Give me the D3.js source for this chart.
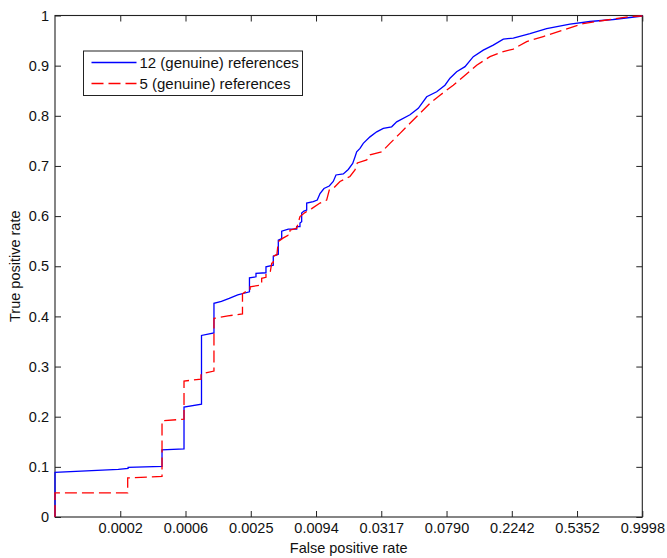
<!DOCTYPE html>
<html>
<head>
<meta charset="utf-8">
<script src="https://cdn.jsdelivr.net/npm/d3@7"></script>
<style>
  body { margin: 0; background: #fff; }
  svg text { font-family: "Liberation Sans", Arial, sans-serif; fill: #111; }
</style>
</head>
<body>
<svg></svg>
<script>

// ----- Data ----- //
// x values are positions on the warped false positive rate axis (tick i sits at i)
var xTickLabels = ['0.0002', '0.0006', '0.0025', '0.0094', '0.0317', '0.0790', '0.2242', '0.5352', '0.9998'];
var yTicks = [0, 0.1, 0.2, 0.3, 0.4, 0.5, 0.6, 0.7, 0.8, 0.9, 1];

var seriesNames = ['12 (genuine) references', '5 (genuine) references'];

var blue = [
  [0, 0], [0, 0.089], [0.97, 0.095], [1.12, 0.097], [1.12, 0.099], [1.64, 0.101], [1.64, 0.134],
  [1.977, 0.136], [1.977, 0.219], [2.245, 0.225], [2.245, 0.362], [2.436, 0.367], [2.436, 0.426],
  [2.55, 0.430], [2.67, 0.436], [2.80, 0.443], [2.98, 0.449], [2.98, 0.477], [3.08, 0.479], [3.08, 0.486],
  [3.233, 0.487], [3.233, 0.499], [3.345, 0.502], [3.345, 0.520], [3.422, 0.524], [3.422, 0.552],
  [3.474, 0.555], [3.474, 0.570], [3.575, 0.574], [3.704, 0.574], [3.704, 0.579], [3.754, 0.579],
  [3.754, 0.586], [3.78, 0.589], [3.78, 0.606], [3.815, 0.610], [3.857, 0.612], [3.857, 0.626],
  [3.958, 0.629], [4.019, 0.632], [4.061, 0.645], [4.122, 0.655], [4.203, 0.660], [4.264, 0.669],
  [4.306, 0.682], [4.418, 0.684], [4.494, 0.693], [4.562, 0.705], [4.597, 0.718], [4.623, 0.728],
  [4.674, 0.735], [4.724, 0.745], [4.827, 0.758], [4.930, 0.768], [5.031, 0.775], [5.159, 0.778],
  [5.236, 0.788], [5.440, 0.802], [5.567, 0.815], [5.696, 0.838], [5.849, 0.848], [5.976, 0.861],
  [6.053, 0.875], [6.155, 0.888], [6.283, 0.898], [6.410, 0.918], [6.563, 0.931], [6.716, 0.941],
  [6.870, 0.953], [7.023, 0.955], [7.279, 0.964], [7.534, 0.974], [7.891, 0.983], [8.198, 0.988],
  [8.555, 0.992], [8.811, 0.996], [9, 0.999]
];

var red = [
  [0, 0], [0, 0.048], [1.114, 0.048], [1.114, 0.078], [1.64, 0.081], [1.64, 0.192], [1.977, 0.195],
  [1.977, 0.271], [2.237, 0.275], [2.237, 0.285], [2.436, 0.291], [2.436, 0.396], [2.65, 0.401],
  [2.873, 0.405], [2.873, 0.445], [2.93, 0.450], [2.99, 0.452], [2.99, 0.459], [3.167, 0.463],
  [3.167, 0.476], [3.233, 0.478], [3.233, 0.486], [3.30, 0.490], [3.321, 0.506], [3.345, 0.507],
  [3.345, 0.520], [3.40, 0.523], [3.422, 0.549], [3.494, 0.556], [3.575, 0.562], [3.601, 0.562],
  [3.601, 0.572], [3.704, 0.576], [3.754, 0.599], [3.831, 0.607], [3.934, 0.615], [4.061, 0.626],
  [4.163, 0.632], [4.203, 0.652], [4.264, 0.655], [4.367, 0.669], [4.520, 0.679], [4.597, 0.692],
  [4.633, 0.706], [4.777, 0.712], [4.827, 0.722], [5.006, 0.728], [5.133, 0.745], [5.287, 0.765],
  [5.440, 0.785], [5.593, 0.805], [5.746, 0.825], [5.900, 0.841], [6.103, 0.861], [6.257, 0.878],
  [6.462, 0.901], [6.666, 0.918], [6.870, 0.928], [7.023, 0.933], [7.228, 0.948], [7.482, 0.958],
  [7.789, 0.971], [8.095, 0.984], [8.454, 0.991], [8.811, 0.998], [9, 0.999]
];

var svgWidth = 667;
var svgHeight = 558;
var margin = {top: 15.5, right: 24.7, bottom: 41, left: 55};
var width = svgWidth - margin.left - margin.right;
var height = svgHeight - margin.top - margin.bottom;
var scale = {};

// ----- SVG settings ----- //
var svg = d3.select("svg")
  .attr('width', svgWidth)
  .attr('height', svgHeight);

var g = svg.append('g')
  .attr('transform', translate(margin.left, margin.top));

setScale();
initializeAxis();
initializePlot();
initializeLegend();

// ==================== Helper functions ==================== //

function setScale() {
  scale.x = d3.scaleLinear()
    .domain([0, xTickLabels.length])
    .range([0, width]);

  scale.y = d3.scaleLinear()
    .domain([0, 1])
    .range([height, 0]);
}

function initializeAxis() {
  var xTicks = d3.range(1, xTickLabels.length + 1);
  var fontSize = '14.5px';

  var xb = g.append('g')
    .attr('transform', translate(0, height))
    .call(d3.axisBottom(scale.x).tickValues(xTicks).tickSize(-6).tickPadding(6)
      .tickFormat(function(d) { return xTickLabels[d - 1]; }));

  var xt = g.append('g')
    .call(d3.axisTop(scale.x).tickValues(xTicks).tickSize(-6).tickFormat(''));

  var yl = g.append('g')
    .call(d3.axisLeft(scale.y).tickValues(yTicks).tickSize(-6).tickPadding(6)
      .tickFormat(function(d) { return d3.format('~g')(d); }));

  var yr = g.append('g')
    .attr('transform', translate(width, 0))
    .call(d3.axisRight(scale.y).tickValues(yTicks).tickSize(-6).tickFormat(''));

  [xb, xt, yl, yr].forEach(function(a) {
    a.select('.domain').remove();
    a.selectAll('line').attr('stroke', '#222').attr('stroke-width', 1);
    a.selectAll('text').style('font-size', fontSize).attr('fill', '#111');
  });

  g.append('rect')
    .attr('width', width)
    .attr('height', height)
    .attr('fill', 'none')
    .attr('stroke', '#222')
    .attr('stroke-width', 1.1);

  g.append('text')
    .attr('x', width / 2)
    .attr('y', height + 36)
    .attr('text-anchor', 'middle')
    .style('font-size', fontSize)
    .text('False positive rate');

  g.append('text')
    .attr('transform', translate(-35.5, height / 2) + ' rotate(-90)')
    .attr('text-anchor', 'middle')
    .style('font-size', fontSize)
    .text('True positive rate');
}

function initializePlot() {
  var line = d3.line()
    .x(function(d) { return scale.x(d[0]); })
    .y(function(d) { return scale.y(d[1]); });

  g.append('path')
    .attr('d', line(blue))
    .attr('fill', 'none')
    .attr('stroke', '#0000ff')
    .attr('stroke-width', 1.3);

  g.append('path')
    .attr('d', line(red))
    .attr('fill', 'none')
    .attr('stroke', '#ff0000')
    .attr('stroke-width', 1.3)
    .attr('stroke-dasharray', '12,5');
}

function initializeLegend() {
  var lg = svg.append('g').attr('transform', translate(83.5, 51));

  lg.append('rect')
    .attr('width', 219)
    .attr('height', 44.5)
    .attr('fill', '#fff')
    .attr('stroke', '#222')
    .attr('stroke-width', 1);

  var rows = [
    {name: seriesNames[0], color: '#0000ff', dash: null},
    {name: seriesNames[1], color: '#ff0000', dash: '12,5'}
  ];

  rows.forEach(function(r, i) {
    var cy = 11.5 + i * 21;
    lg.append('line')
      .attr('x1', 8).attr('x2', 53)
      .attr('y1', cy).attr('y2', cy)
      .attr('stroke', r.color)
      .attr('stroke-width', 1.3)
      .attr('stroke-dasharray', r.dash);
    lg.append('text')
      .attr('x', 56)
      .attr('y', cy)
      .attr('dy', '0.35em')
      .style('font-size', '15px')
      .text(r.name);
  });
}

function translate(x, y) {
  return 'translate(' + x + ',' + y + ')';
}

</script>
</body>
</html>
